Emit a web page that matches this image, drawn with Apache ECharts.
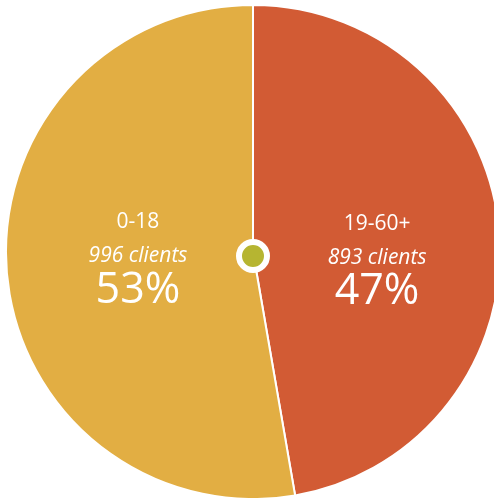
<!DOCTYPE html>
<html>
<head>
<meta charset="utf-8">
<script src="https://cdn.jsdelivr.net/npm/echarts@6/dist/echarts.min.js"></script>
<style>
  html, body { margin: 0; padding: 0; background: #fff; }
  #chart { width: 494px; height: 498px; }
</style>
</head>
<body>
<div id="chart"></div>
<script>
// age groups, clockwise from 12 o'clock
const groups = ['19-60+', '0-18'];
const clients = [893, 996];
const shares = [47, 53];
const colors = ['#d25b34', '#e2ae43'];

const chart = echarts.init(document.getElementById('chart'));

// labels are nudged so both blocks sit on the same row, like the original
const offsets = [[-2, 17], [11, -6]];

const option = {
    animation: false,
    series: [
        {
            name: 'clients',
            type: 'pie',
            center: [253, 252],
            radius: [0, 247],
            startAngle: 90,
            clockwise: true,
            silent: true,
            itemStyle: { borderColor: '#fff', borderWidth: 2 },
            label: {
                show: true,
                position: 'inside',
                color: '#fff',
                fontFamily: 'Open Sans',
                formatter: p => '{a|' + p.name + '}\n{b|' + clients[p.dataIndex] + ' clients}\n{c|' + shares[p.dataIndex] + '%}',
                rich: {
                    a: { fontSize: 21, lineHeight: 35, color: '#fff', fontFamily: 'Open Sans' },
                    b: { fontSize: 21, lineHeight: 33, fontStyle: 'italic', color: '#fff', fontFamily: 'Open Sans' },
                    c: { fontSize: 43, lineHeight: 36, color: '#fff', fontFamily: 'Open Sans' }
                }
            },
            labelLine: { show: false },
            data: groups.map((g, i) => ({
                name: g,
                value: clients[i],
                itemStyle: { color: colors[i] },
                label: { offset: offsets[i] }
            }))
        },
        {
            // centre dot
            type: 'pie',
            center: [253, 256],
            radius: [0, 14],
            silent: true,
            label: { show: false },
            itemStyle: { color: '#b6b531', borderColor: '#fff', borderWidth: 6 },
            data: [1]
        }
    ]
};

chart.setOption(option);
</script>
</body>
</html>
